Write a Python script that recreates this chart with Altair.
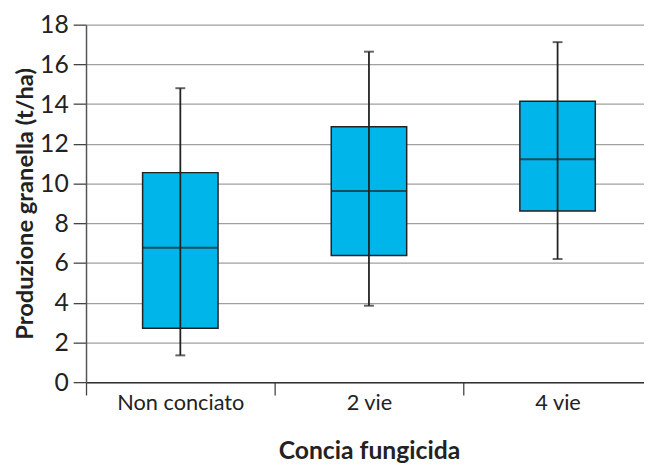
import altair as alt
import pandas as pd

categories = ["Non conciato", "2 vie", "4 vie"]
mins = [1.35, 3.85, 6.2]
q1s = [2.72, 6.38, 8.62]
medians = [6.77, 9.62, 11.22]
q3s = [10.55, 12.86, 14.14]
maxs = [14.8, 16.64, 17.12]
y_ticks = [0, 2, 4, 6, 8, 10, 12, 14, 16, 18]

df = pd.DataFrame({
    "cat": categories,
    "min": mins,
    "q1": q1s,
    "median": medians,
    "q3": q3s,
    "max": maxs,
})

FONT = "Lato"
DARK = "#222222"
FILL = "#00b5ea"

x_enc = alt.X(
    "cat:N",
    sort=categories,
    scale=alt.Scale(range=[0, 573], paddingInner=0, paddingOuter=0),
    axis=alt.Axis(
        title="Concia fungicida",
        titleFont=FONT,
        titleFontSize=25,
        titleFontWeight="bold",
        titleColor=DARK,
        titleY=77,
        titleBaseline="alphabetic",
        labelFont=FONT,
        labelFontSize=22,
        labelFontWeight="normal",
        labelColor=DARK,
        labelPadding=-2,
        labelAngle=0,
        tickBand="extent",
        tickSize=13,
        tickColor="#444444",
        tickWidth=1.3,
        domainColor="#333333",
        domainWidth=1.5,
        grid=False,
    ),
)

y_scale = alt.Scale(domain=[0, 18], nice=False, zero=True)
y_axis = alt.Axis(
    values=y_ticks,
    title="Produzione granella (t/ha)",
    titleFont=FONT,
    titleFontSize=24,
    titleFontWeight="bold",
    titleColor=DARK,
    titleX=-54,
    titleBaseline="alphabetic",
    labelFont=FONT,
    labelFontSize=25,
    labelFontWeight="normal",
    labelColor=DARK,
    labelPadding=5,
    tickSize=13,
    tickColor="#444444",
    tickWidth=1.3,
    domainColor="#555555",
    domainWidth=1.5,
    grid=True,
    gridColor="#a0a0a0",
    gridWidth=1.3,
)

base = alt.Chart(df)

boxes = base.mark_bar(
    width=alt.RelativeBandSize(0.4), fill=FILL, stroke=DARK, strokeWidth=1.5
).encode(
    x=x_enc,
    y=alt.Y("q1:Q", scale=y_scale, axis=y_axis),
    y2="q3:Q",
)

whisk = base.mark_rule(color=DARK, strokeWidth=1.8).encode(
    x=alt.X("cat:N", sort=categories),
    y="min:Q",
    y2="max:Q",
)

med = base.mark_tick(color=DARK, size=76, thickness=2, orient="horizontal").encode(
    x=alt.X("cat:N", sort=categories),
    y="median:Q",
)

cap_lo = base.mark_tick(color=DARK, size=10, thickness=2, orient="horizontal").encode(
    x=alt.X("cat:N", sort=categories),
    y="min:Q",
)
cap_hi = base.mark_tick(color=DARK, size=10, thickness=2, orient="horizontal").encode(
    x=alt.X("cat:N", sort=categories),
    y="max:Q",
)

chart = (
    alt.layer(boxes, whisk, med, cap_lo, cap_hi)
    .properties(
        width=565,
        height=362,
        autosize=alt.AutoSizeParams(type="none"),
        padding={"left": 79, "top": 14, "right": 0, "bottom": 81},
    )
    .configure_view(stroke=None)
)

chart.save("out.html", embed_options={"renderer": "svg", "actions": False})
